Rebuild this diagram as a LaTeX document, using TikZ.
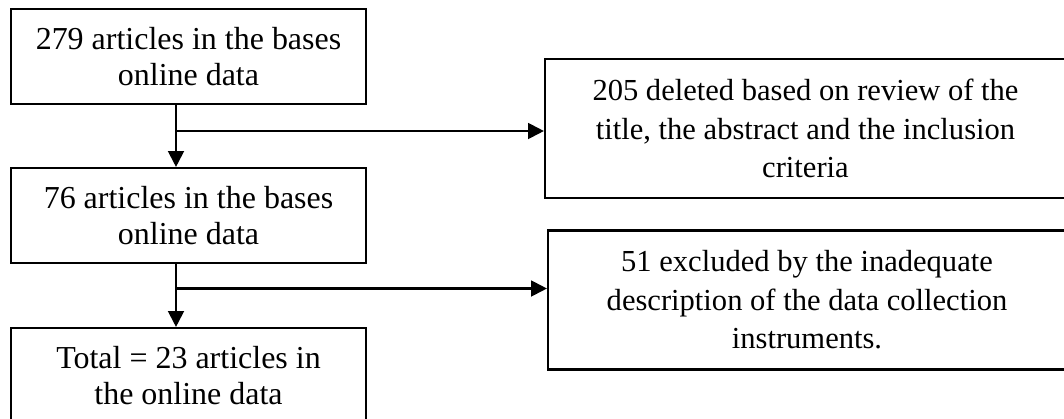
\documentclass[tikz,border=0pt]{standalone}
\usepackage{fontspec}
\setmainfont{Liberation Serif}
\usetikzlibrary{arrows.meta}

\begin{document}
\begin{tikzpicture}[
    x=0.3534pt, y=-0.3534pt,
    box/.style = {rectangle, draw=black, line width=0.75pt, align=center, inner sep=0pt,
                  font=\fontsize{10.8}{13.6}\selectfont},
    leftbox/.style = {box, minimum width=355*0.3534pt, minimum height=95*0.3534pt,
                      font=\fontsize{11.3}{12.9}\selectfont},
    rightbox/.style = {box, minimum width=521*0.3534pt, minimum height=139*0.3534pt},
    arrow/.style = {-{Triangle[length=5.6pt, width=5.6pt]}, line width=0.75pt}
]

% Frame of the page
\useasboundingbox (0,0) rectangle (1064,419);
\clip (0,0) rectangle (1064,419);

% Nodes - main column
\node (found) [leftbox] at (188.5, 56.5) {279 articles in the bases \\ online data};
\node (kept) [leftbox] at (188.5, 215.5) {76 articles in the bases \\ online data};
\node (total) [leftbox] at (188.5, 375.5) {Total = 23 articles in \\ the online data};

% Nodes - excluded
\node (deleted) [rightbox] at (805.5, 128.5) {205 deleted based on review of the \\ title, the abstract and the inclusion \\ criteria};
\node (excluded) [rightbox, minimum width=518*0.3534pt] at (807, 300) {51 excluded by the inadequate \\ description of the data collection \\ instruments.};

% Branch points
\coordinate (spine) at (176, 0);
\coordinate (fork1) at (176, 131);
\coordinate (fork2) at (176, 288.5);

% Arrows
\draw [arrow] (found.south -| spine) -- (kept.north -| spine);
\draw [arrow] (kept.south -| spine) -- (total.north -| spine);
\draw [arrow] (fork1) -- (fork1 -| deleted.west);
\draw [arrow] (fork2) -- (fork2 -| excluded.west);

\end{tikzpicture}
\end{document}
